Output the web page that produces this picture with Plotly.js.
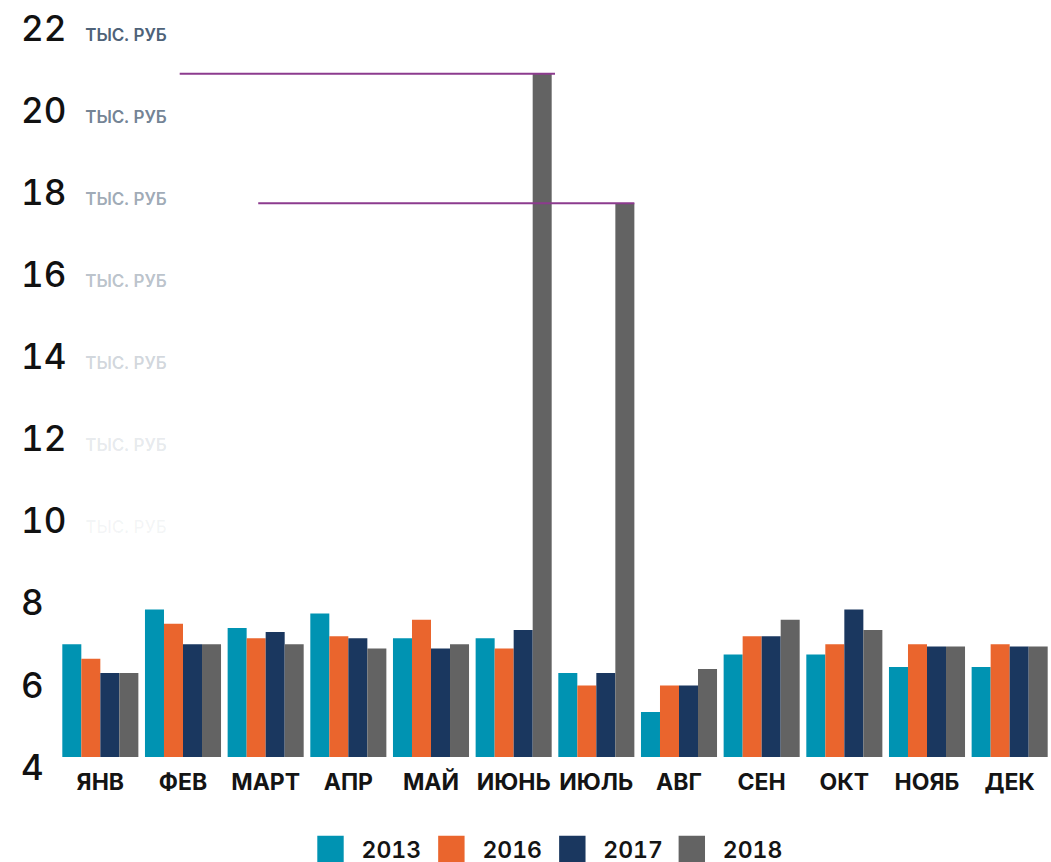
<!DOCTYPE html>
<html>
<head>
<meta charset="utf-8">
<script src="https://cdn.plot.ly/plotly-3.0.1.min.js"></script>
<style>
  html, body { margin: 0; padding: 0; background: #ffffff; overflow: hidden; }
  #chart { width: 1051px; height: 862px; }
  #chart svg text { font-feature-settings: "tnum"; font-variant-numeric: tabular-nums; }
  #chart .legendpoints path { transform: translate(31px, 0px) scale(2.2); }
</style>
</head>
<body>
<div id="chart"></div>
<script>
// ---- data ----
const months = ['ЯНВ', 'ФЕВ', 'МАРТ', 'АПР', 'МАЙ', 'ИЮНЬ', 'ИЮЛЬ', 'АВГ', 'СЕН', 'ОКТ', 'НОЯБ', 'ДЕК'];
const years = ['2013', '2016', '2017', '2018'];
const v2013 = [7.0, 7.85, 7.4, 7.75, 7.15, 7.15, 6.3, 5.35, 6.75, 6.75, 6.45, 6.45];
const v2016 = [6.65, 7.5, 7.15, 7.2, 7.6, 6.9, 6.0, 6.0, 7.2, 7.0, 7.0, 7.0];
const v2017 = [6.3, 7.0, 7.3, 7.15, 6.9, 7.35, 6.3, 6.0, 7.2, 7.85, 6.95, 6.95];
const v2018 = [6.3, 7.0, 7.0, 6.9, 7.0, 20.9, 17.75, 6.4, 7.6, 7.35, 6.95, 6.95];
const yTickVals = [4, 6, 8, 10, 12, 14, 16, 18, 20, 22];
const unitLabel = 'ТЫС. РУБ';

// ---- styles ----
const colors = ['#0093b2', '#ea652d', '#1a375f', '#636363'];
const series = [v2013, v2016, v2017, v2018];
const FONT = 'Inter, "Noto Sans", sans-serif';
// fading opacity of the unit suffix per tick (absent = no suffix)
const suffixAlpha = {22: 1.0, 20: 0.8, 18: 0.55, 16: 0.4, 14: 0.26, 12: 0.14, 10: 0.06};

const yText = yTickVals.map(v => {
  const a = suffixAlpha[v];
  if (a === undefined) return String(v);
  return String(v) + '\u00A0\u00A0<span style="font-size:17px;font-weight:600;fill:rgba(78,98,120,' + a + ')">' + unitLabel + '</span>';
});

const traces = series.map((vals, i) => ({
  type: 'bar',
  name: years[i],
  x: months,
  y: vals,
  xaxis: 'x',
  yaxis: 'y',
  marker: { color: colors[i], line: { width: 0 } },
  hoverinfo: 'x+y+name'
}));
// empty helper trace so that the value-scale axis (y2, same scale as y) is drawn
traces.push({
  type: 'scatter', mode: 'markers', x: [], y: [], xaxis: 'x', yaxis: 'y2',
  showlegend: false, hoverinfo: 'skip'
});

const junIdx = months.indexOf('ИЮНЬ');
const julIdx = months.indexOf('ИЮЛЬ');

// plot area: paper is 792 px tall (0..792), bars axis bottom at 757 px
const PAPER_H = 792;
const layout = {
  width: 1051,
  height: 862,
  margin: { l: 0, r: 0, t: 0, b: 70, autoexpand: false },
  paper_bgcolor: '#ffffff',
  plot_bgcolor: 'rgba(0,0,0,0)',
  barmode: 'group',
  bargap: 0.08,
  bargroupgap: 0,
  font: { family: FONT, color: '#111111' },
  xaxis: {
    type: 'category',
    domain: [59 / 1051, 1],
    anchor: 'y',
    showgrid: false, zeroline: false, showline: false, ticks: '',
    tickfont: { family: FONT, size: 23, weight: 700, color: '#141414' },
    ticklabelstandoff: 9
  },
  yaxis: {
    domain: [35 / PAPER_H, 1],
    range: [4.255, 22.7],
    anchor: 'x',
    showgrid: false, zeroline: false, showline: false, ticks: '',
    showticklabels: false
  },
  yaxis2: {
    domain: [0, 1],
    range: [3.4, 22.7],
    anchor: 'free',
    side: 'right',
    position: 20 / 1051,
    showgrid: false, zeroline: false, showline: false, ticks: '',
    tickmode: 'array',
    tickvals: yTickVals,
    ticktext: yText,
    tickfont: { family: FONT, size: 35, weight: 500, color: '#111111' }
  },
  shapes: [
    { type: 'line', xref: 'x', yref: 'y', x0: 0.96, x1: junIdx + 0.5, y0: v2018[junIdx], y1: v2018[junIdx],
      line: { color: '#8c3b8e', width: 2 } },
    { type: 'line', xref: 'x', yref: 'y', x0: 1.91, x1: julIdx + 0.46, y0: v2018[julIdx], y1: v2018[julIdx],
      line: { color: '#8c3b8e', width: 2 } }
  ],
  showlegend: true,
  legend: {
    orientation: 'h',
    x: 541 / 1051, xanchor: 'center',
    y: -57 / PAPER_H, yanchor: 'middle',
    font: { family: FONT, size: 23, weight: 600, color: '#141414' },
    itemwidth: 52,
    traceorder: 'normal'
  }
};

Plotly.newPlot('chart', traces, layout, { displayModeBar: false, staticPlot: true });
</script>
</body>
</html>
